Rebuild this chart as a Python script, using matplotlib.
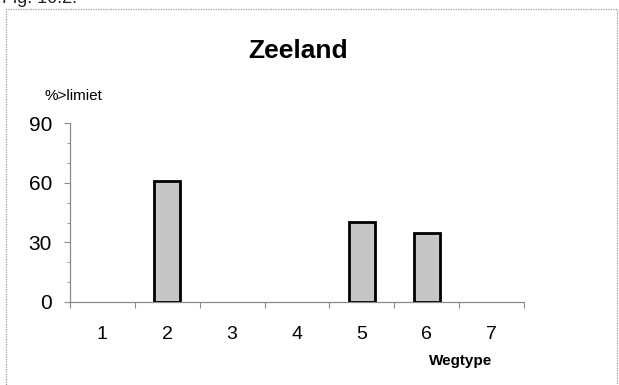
import matplotlib
matplotlib.use("Agg")
import matplotlib.pyplot as plt
import matplotlib.ticker as mticker
from matplotlib.patches import Rectangle

# ── Data ───────────────────────────────────────────────────────────────────
wegtypes = [1, 2, 3, 4, 5, 6, 7]
pct_over = [0, 61, 0, 0, 40.5, 35, 0]
y_ticks  = [0, 30, 60, 90]

BAR_FILL = "#c6c6c6"
AXIS_CLR = "#8a8a8a"

plt.rcParams["font.family"] = ["Liberation Sans", "DejaVu Sans"]

fig = plt.figure(figsize=(6.19, 3.85), dpi=100)
fig.patch.set_facecolor("white")
ax = fig.add_axes([0.1131, 0.2156, 0.7334, 0.4641])

vals = [v if v > 0 else 0 for v in pct_over]
shown = [i for i, v in enumerate(vals) if v > 0]
ax.bar([wegtypes[i] for i in shown], [vals[i] for i in shown], width=0.4,
       color=BAR_FILL, edgecolor="black", linewidth=2.0, zorder=3)

ax.set_xlim(0.5, 7.5)
ax.set_ylim(0, 90)

# category boundaries carry the ticks, labels sit in the middle
ax.set_xticks([w + 0.5 for w in [0] + wegtypes])
ax.set_xticklabels([])
ax.set_xticks(wegtypes, minor=True)
ax.set_xticklabels([str(w) for w in wegtypes], minor=True, fontsize=14)
ax.tick_params(axis="x", which="major", direction="out", length=4,
               color=AXIS_CLR, width=0.8)
ax.tick_params(axis="x", which="minor", length=0, pad=17)

ax.set_yticks(y_ticks)
ax.set_yticklabels([str(t) for t in y_ticks], fontsize=15)
ax.yaxis.set_minor_locator(mticker.MultipleLocator(10))
ax.tick_params(axis="y", which="major", direction="out", length=4,
               color=AXIS_CLR, width=0.8, pad=9)
ax.tick_params(axis="y", which="minor", direction="out", length=2,
               color=AXIS_CLR, width=0.6)

for side in ("top", "right"):
    ax.spines[side].set_visible(False)
for side in ("left", "bottom"):
    ax.spines[side].set_color(AXIS_CLR)
    ax.spines[side].set_linewidth(0.9)
    ax.spines[side].set_linestyle((0, (1, 1)))

# ── Texts ──────────────────────────────────────────────────────────────────
fig.text(298 / 619, 1 - 51 / 385, "Zeeland", fontsize=19, fontweight="bold",
         ha="center", va="center")
fig.text(44 / 619, 1 - 96 / 385, "%>limiet", fontsize=11, ha="left", va="center")
fig.text(461 / 619, 1 - 361 / 385, "Wegtype", fontsize=11, fontweight="bold",
         ha="center", va="center")
# caption above the chart, almost entirely cut off in the scan
fig.text(2 / 619, 1 - 3 / 385, "Fig. 10.2.", fontsize=13, ha="left",
         va="baseline", color="#222222")

# dotted frame around the chart
fig.patches.append(Rectangle((6 / 619, -0.01), 611 / 619, 1 - 9 / 385 + 0.01,
                             transform=fig.transFigure, fill=False,
                             edgecolor="#9a9a9a", linewidth=0.9,
                             linestyle=(0, (1, 1))))

fig.savefig("out.png", dpi=100, facecolor="white")
